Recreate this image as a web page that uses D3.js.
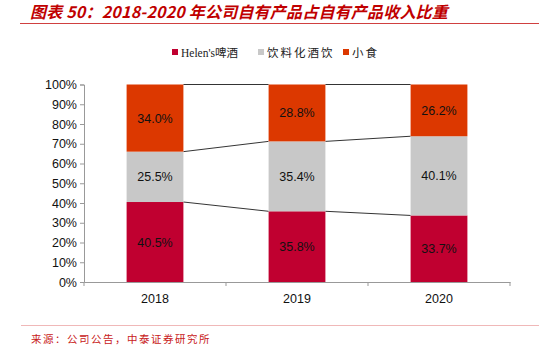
<!DOCTYPE html>
<html>
<head>
<meta charset="utf-8">
<script src="https://cdn.jsdelivr.net/npm/d3@7"></script>
<style>
  body { margin: 0; background: #fff; }
  svg text { font-family: "Liberation Sans", Arial, "Noto Sans CJK SC", sans-serif; }
</style>
</head>
<body>
<div class="chart"></div>
<script>
const years = ['2018', '2019', '2020']
const beer = [40.5, 35.8, 33.7]
const drinks = [25.5, 35.4, 40.1]
const snacks = [34.0, 28.8, 26.2]
const seriesNames = ["Helen's啤酒", '饮料化酒饮', '小食']
const seriesColors = ['#C00030', '#C8C8C8', '#DC3800']
const yTicks = [0, 10, 20, 30, 40, 50, 60, 70, 80, 90, 100]

const width = 539
const height = 349

const svg = d3.select('.chart').append('svg')
    .attr('width', width)
    .attr('height', height)

// title
svg.append('text')
    .attr('x', 30)
    .attr('y', 18)
    .attr('fill', '#C00000')
    .attr('font-size', 16)
    .attr('font-weight', 'bold')
    .attr('font-style', 'italic')
    .attr('letter-spacing', 0.2)
    .style('font-family', '"Noto Sans CJK SC", sans-serif')
    .text('图表 50：2018-2020 年公司自有产品占自有产品收入比重')
svg.append('line')
    .attr('x1', 20).attr('x2', width)
    .attr('y1', 23.5).attr('y2', 23.5)
    .attr('stroke', '#D04040')
    .attr('stroke-width', 1)

const x = d3.scaleBand()
    .domain(years)
    .range([84, 510])
    .paddingInner(0.6)
    .paddingOuter(0.3)
const y = d3.scaleLinear()
    .domain([0, 100])
    .range([282, 84.5])

const rows = years.map((yr, i) => ({ year: yr, beer: beer[i], drinks: drinks[i], snacks: snacks[i] }))
const stack = d3.stack().keys(['beer', 'drinks', 'snacks'])(rows)

// connector lines between bars
const g = svg.append('g')
stack.forEach((layer) => {
    for (let i = 0; i < years.length - 1; i++) {
        g.append('line')
            .attr('x1', x(years[i]) + x.bandwidth())
            .attr('x2', x(years[i + 1]))
            .attr('y1', y(layer[i][1]))
            .attr('y2', y(layer[i + 1][1]))
            .attr('stroke', '#000')
            .attr('stroke-width', 0.8)
    }
})

stack.forEach((layer, k) => {
    g.selectAll('rect.s' + k)
        .data(layer)
        .enter()
        .append('rect')
        .attr('x', (d) => x(d.data.year))
        .attr('width', x.bandwidth())
        .attr('y', (d) => y(d[1]))
        .attr('height', (d) => y(d[0]) - y(d[1]))
        .attr('fill', seriesColors[k])
    g.selectAll('text.s' + k)
        .data(layer)
        .enter()
        .append('text')
        .attr('x', (d) => x(d.data.year) + x.bandwidth() / 2)
        .attr('y', (d) => y((d[0] + d[1]) / 2) + 4.5)
        .attr('text-anchor', 'middle')
        .attr('font-size', 12.5)
        .attr('fill', '#111')
        .text((d) => (d[1] - d[0]).toFixed(1) + '%')
})

// axes
const yAxis = svg.append('g')
    .attr('transform', 'translate(84,0)')
    .call(d3.axisLeft(y).tickValues(yTicks).tickSize(4).tickFormat((d) => d + '%'))
yAxis.select('.domain').attr('stroke', '#999')
yAxis.selectAll('.tick line').attr('stroke', '#999')
yAxis.selectAll('.tick text').attr('font-size', 12.5).attr('fill', '#111')
    .style('font-family', '"Liberation Sans", Arial, sans-serif')

const xAxis = svg.append('g')
    .attr('transform', 'translate(0,282)')
    .call(d3.axisBottom(x).tickSize(0).tickPadding(12))
xAxis.select('.domain').attr('stroke', '#999')
xAxis.selectAll('.tick text').attr('font-size', 12.5).attr('fill', '#111')
    .style('font-family', '"Liberation Sans", Arial, sans-serif')
const edges = [84, 226, 368, 510]
xAxis.selectAll('line.edge')
    .data(edges)
    .enter()
    .append('line')
    .attr('x1', (d) => d).attr('x2', (d) => d)
    .attr('y1', 0).attr('y2', 4)
    .attr('stroke', '#999')

// legend
const legendX = [172, 258, 343]
const legendSpacing = [0, 2, 2]
const legend = svg.append('g')
seriesNames.forEach((name, i) => {
    legend.append('rect')
        .attr('x', legendX[i]).attr('y', 49)
        .attr('width', 6).attr('height', 6)
        .attr('fill', seriesColors[i])
    legend.append('text')
        .attr('x', legendX[i] + 9).attr('y', 57)
        .attr('font-size', 11.5)
        .attr('letter-spacing', legendSpacing[i])
        .attr('fill', '#222')
        .style('font-family', '"Liberation Serif", "Noto Sans CJK SC", serif')
        .text(name)
})

// footer
svg.append('line')
    .attr('x1', 21).attr('x2', width)
    .attr('y1', 325.5).attr('y2', 325.5)
    .attr('stroke', '#F0B8B8')
    .attr('stroke-width', 1.2)
svg.append('text')
    .attr('x', 31).attr('y', 343)
    .attr('font-size', 10.5)
    .attr('letter-spacing', 1.5)
    .attr('fill', '#C82020')
    .style('font-family', '"Noto Sans CJK SC", sans-serif')
    .text('来源：公司公告，中泰证券研究所')
</script>
</body>
</html>
